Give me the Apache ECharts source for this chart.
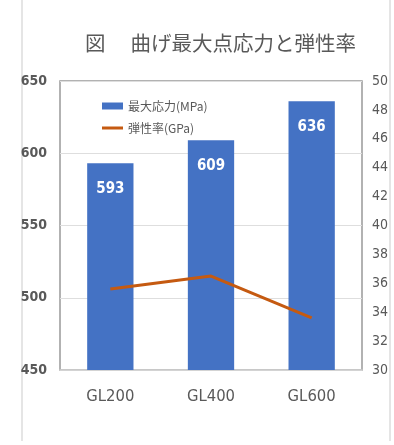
<!DOCTYPE html>
<html><head><meta charset="utf-8">
<script src="https://cdn.jsdelivr.net/npm/echarts@6/dist/echarts.min.js"></script>
<style>html,body{margin:0;padding:0;background:#fff}#c{width:394px;height:445px}</style>
</head><body><div id="c"></div>
<script>
const titleText = '図　 曲げ最大点応力と弾性率';
const categories = ['GL200', 'GL400', 'GL600'];
const stressName = '最大応力(MPa)';
const stressValues = [593, 609, 636];
const modulusName = '弾性率(GPa)';
const modulusValues = [35.6, 36.5, 33.6];
const leftTicks = {min: 450, max: 650, interval: 50};
const rightTicks = {min: 30, max: 50, interval: 2};

const narrow = '"DejaVu Sans Condensed", "Liberation Sans Narrow", sans-serif';
const cjk = '"Noto Sans CJK JP", sans-serif';
const chart = echarts.init(document.getElementById('c'), null, {renderer: 'canvas'});
chart.setOption({
  animation: false,
  backgroundColor: '#fff',
  graphic: [
    {type: 'line', shape: {x1: 22, y1: 0, x2: 22, y2: 441}, style: {stroke: '#dcdcdc', lineWidth: 1.5}},
    {type: 'line', shape: {x1: 390, y1: 0, x2: 390, y2: 441}, style: {stroke: '#dcdcdc', lineWidth: 1.5}}
  ],
  title: {
    text: titleText, left: 85, top: 33, padding: 0,
    textStyle: {fontFamily: cjk, fontSize: 20.5, fontWeight: 'normal', color: '#595959'}
  },
  legend: {
    orient: 'vertical', left: 97, top: 95, itemGap: 10,
    itemWidth: 21, itemHeight: 7,
    textStyle: {fontFamily: cjk, fontSize: 12, color: '#595959'},
    data: [
      {name: stressName, icon: 'rect'},
      {name: modulusName, icon: 'path://M0,0L21,0L21,3L0,3Z'}
    ]
  },
  grid: {left: 60, right: 32, top: 81, bottom: 75, show: true, borderColor: '#999', borderWidth: 1.5, backgroundColor: 'transparent'},
  xAxis: {
    type: 'category', data: categories,
    axisLine: {lineStyle: {color: '#d0d0d0', width: 1.5}},
    axisTick: {show: false},
    axisLabel: {fontFamily: narrow, fontSize: 16.5, color: '#595959', margin: 18}
  },
  yAxis: [
    {
      type: 'value', min: leftTicks.min, max: leftTicks.max, interval: leftTicks.interval,
      axisLine: {show: false}, axisTick: {show: false},
      axisLabel: {fontFamily: narrow, fontSize: 14, fontWeight: 'bold', color: '#595959', margin: 13},
      splitLine: {lineStyle: {color: '#dedede', width: 1}}
    },
    {
      type: 'value', min: rightTicks.min, max: rightTicks.max, interval: rightTicks.interval,
      axisLine: {show: false}, axisTick: {show: false},
      axisLabel: {fontFamily: narrow, fontSize: 14, color: '#595959', margin: 10},
      splitLine: {show: false}
    }
  ],
  series: [
    {
      name: stressName, type: 'bar', data: stressValues, barWidth: '46%',
      itemStyle: {color: '#4472c4'},
      label: {show: true, position: 'insideTop', distance: 18, color: '#fff', fontFamily: narrow, fontSize: 15, fontWeight: 'bold'}
    },
    {
      name: modulusName, type: 'line', yAxisIndex: 1, data: modulusValues,
      symbol: 'none', lineStyle: {color: '#c55a11', width: 3}, itemStyle: {color: '#c55a11'}
    }
  ]
});
</script></body></html>
